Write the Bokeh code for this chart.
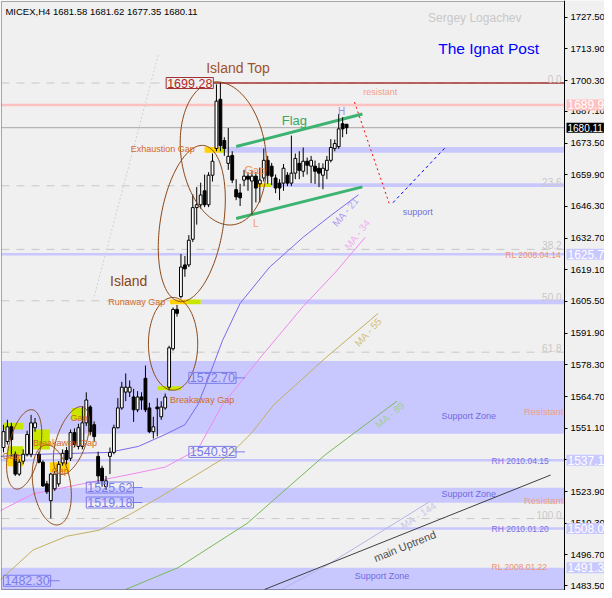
import numpy as np
from bokeh.plotting import figure
from bokeh.models import Range1d, BoxAnnotation, Label, FixedTicker, PrintfTickFormatter, LinearAxis
from bokeh.core.properties import value
from bokeh.embed import file_html
from bokeh.resources import INLINE

# ---------------- data ----------------
title_text = "MICEX,H4  1681.58 1681.62 1677.35 1680.11"

opens = [1542.8, 1545.4, 1551.7, 1539.9, 1531.4, 1536.9, 1539.9, 1539.9, 1551.3, 1539.9,
         1536.5, 1527.2, 1520.0, 1525.1, 1527.2, 1536.2, 1541.5, 1538.2, 1549.2, 1543.3,
         1543.3, 1553.4, 1560.2, 1552.6, 1539.0, 1533.9, 1526.0, 1539.0, 1540.7, 1551.3,
         1559.8, 1566.6, 1566.6, 1564.5, 1559.0, 1564.5, 1572.5, 1559.8, 1549.6, 1560.2,
         1556.0, 1559.8, 1568.7, 1585.2, 1602.1, 1607.6, 1621.2, 1621.2, 1632.2, 1645.8,
         1647.0, 1653.0, 1647.0, 1659.7, 1671.2, 1692.3, 1674.6, 1664.8, 1668.2, 1653.5,
         1652.1, 1657.6, 1659.3, 1657.2, 1659.3, 1656.0, 1658.5, 1666.1, 1663.6, 1658.5,
         1656.3, 1656.3, 1659.7, 1656.3, 1660.6, 1664.8, 1661.4, 1665.7, 1663.6, 1663.6,
         1662.7, 1659.7, 1661.8, 1666.1, 1671.2, 1672.0, 1681.8, 1681.58]
highs = [1552.6, 1554.7, 1553.4, 1541.1, 1537.8, 1542.0, 1550.0, 1556.8, 1555.5, 1541.1,
         1537.3, 1528.5, 1532.0, 1532.7, 1537.0, 1542.0, 1543.0, 1550.5, 1551.0, 1553.0,
         1560.5, 1566.5, 1561.0, 1554.0, 1541.0, 1535.0, 1530.6, 1542.8, 1552.6, 1564.0,
         1571.0, 1574.6, 1571.6, 1568.0, 1567.0, 1566.5, 1578.0, 1562.0, 1556.0, 1564.0,
         1562.7, 1566.0, 1586.5, 1602.9, 1604.0, 1625.9, 1625.0, 1634.0, 1651.5, 1654.6,
         1656.5, 1660.0, 1661.0, 1669.0, 1698.7, 1699.28, 1676.0, 1680.0, 1670.0, 1658.0,
         1656.0, 1662.0, 1661.0, 1662.0, 1661.0, 1663.0, 1671.2, 1668.0, 1665.0, 1660.0,
         1658.0, 1664.5, 1661.0, 1676.7, 1669.0, 1670.0, 1671.6, 1667.3, 1668.0, 1666.0,
         1665.0, 1664.8, 1668.0, 1675.2, 1675.0, 1686.0, 1684.6, 1681.62]
lows = [1540.7, 1544.1, 1539.0, 1530.6, 1530.6, 1535.6, 1539.0, 1538.6, 1549.6, 1536.0,
        1525.9, 1522.9, 1512.3, 1524.2, 1526.0, 1535.0, 1535.6, 1537.0, 1543.0, 1542.0,
        1542.0, 1552.0, 1548.0, 1545.4, 1527.6, 1526.0, 1524.6, 1531.4, 1539.9, 1551.0,
        1559.0, 1562.7, 1564.5, 1553.8, 1558.0, 1559.0, 1558.0, 1549.0, 1546.7, 1547.6,
        1554.7, 1559.0, 1567.3, 1584.4, 1599.0, 1606.8, 1616.1, 1620.3, 1631.0, 1638.5,
        1645.4, 1646.0, 1646.0, 1657.0, 1670.0, 1670.0, 1668.0, 1662.0, 1656.3, 1649.0,
        1646.5, 1655.0, 1653.0, 1642.8, 1648.0, 1648.0, 1657.0, 1656.0, 1655.5, 1652.0,
        1649.0, 1653.0, 1655.0, 1655.0, 1658.0, 1658.0, 1659.0, 1660.0, 1656.3, 1656.0,
        1654.6, 1653.7, 1658.0, 1665.2, 1670.0, 1671.0, 1676.0, 1677.35]
closes = [1549.6, 1551.7, 1546.2, 1531.4, 1536.5, 1539.9, 1548.4, 1553.4, 1553.4, 1536.5,
          1526.3, 1523.8, 1531.4, 1531.4, 1535.6, 1540.3, 1537.7, 1549.2, 1544.1, 1551.3,
          1553.4, 1563.2, 1549.6, 1547.5, 1530.6, 1528.5, 1528.5, 1540.7, 1551.3, 1559.8,
          1568.7, 1568.7, 1568.7, 1559.0, 1564.5, 1563.2, 1559.0, 1549.6, 1551.7, 1559.4,
          1560.2, 1564.5, 1585.6, 1602.1, 1600.4, 1620.3, 1619.5, 1631.8, 1645.8, 1647.0,
          1651.2, 1647.0, 1659.7, 1665.7, 1691.5, 1672.4, 1671.2, 1667.8, 1657.6, 1650.4,
          1650.0, 1659.3, 1658.0, 1659.3, 1654.2, 1657.6, 1666.1, 1659.7, 1659.3, 1654.2,
          1654.2, 1662.7, 1656.3, 1660.6, 1666.9, 1661.8, 1665.7, 1664.0, 1666.1, 1661.4,
          1660.6, 1662.7, 1666.1, 1671.6, 1673.3, 1679.6, 1679.6, 1680.11]

y_ticks = [1483.5, 1496.7, 1510.3, 1523.9, 1537.5, 1551.1, 1564.7, 1578.3, 1591.9, 1605.5,
           1619.1, 1632.7, 1646.3, 1659.9, 1673.5, 1687.1, 1700.3, 1713.9, 1727.5]

# moving averages (bar index, price)
ma21_x = [-0.75, 9.25, 26.75, 34.25, 41, 46, 49.25, 51.75, 55.5, 60, 67.5, 76, 83, 90]
ma21_y = [1539.0, 1539.9, 1540.7, 1543.3, 1548.4, 1552.6, 1561.1, 1571.6, 1588.6, 1604.7, 1620.3, 1633.1, 1642.4, 1651.3]
ma34_x = [-0.75, 7.5, 20, 32.5, 41, 49.25, 55.5, 65.5, 76, 84.25, 91.75]
ma34_y = [1515.7, 1522.9, 1527.2, 1531.4, 1534.4, 1542.0, 1561.1, 1582.2, 1603.4, 1618.2, 1633.1]
ma55_x = [-0.75, 7.5, 16, 24.25, 32.5, 41, 49.25, 57.5, 63, 68.5, 81.75, 95]
ma55_y = [1486.1, 1498.8, 1504.7, 1507.3, 1514.5, 1522.9, 1531.4, 1539.9, 1549.2, 1561.1, 1581.4, 1600.4]
ma89_x = [31, 44.25, 61.75, 71.75, 81.75, 99.75]
ma89_y = [1481.9, 1491.2, 1510.2, 1525.1, 1539.9, 1562.7]
ma144_x = [70.5, 81.75, 108]
ma144_y = [1481.9, 1492.0, 1519.5]
uptrend_x = [66.25, 138.75]
uptrend_y = [1481.9, 1531.0]

flag_top_x = [59, 91]
flag_top_y = [1672.0, 1686.0]
flag_bot_x = [59, 91]
flag_bot_y = [1641.1, 1654.7]
proj_down_x = [89, 98]
proj_down_y = [1691.1, 1646.6]
proj_up_x = [98.75, 112.25]
proj_up_y = [1647.9, 1672.0]
fib_ray_x = [23.0, 39.25]
fib_ray_y = [1607.6, 1711.4]

# zones and levels
zone_top = [1579.9, 1525.5, 1491.2]
zone_bottom = [1548.7, 1519.1, 1470.0]
rh_levels = [1625.8, 1537.3, 1508.0]
resist_level = 1689.9
last_price = 1680.11
top_high = 1699.28
fib_low = 1512.3
fib_pcts = [0.0, 23.6, 38.2, 50.0, 61.8, 100.0]
fib_names = ["0.0", "23.6", "38.2", "50.0", "61.8", "100.0"]

band_left = [56.0, 68.0, 50.0]
band_top = [1671.8, 1656.3, 1606.4]
band_bottom = [1669.3, 1654.6, 1604.3]

GOLD = "#ffd200"
YG = "#c8e600"
gap_left = [51.0, 54.75, 64.5, 66.25, 42.25, 46.75, 39.0, 0.0, 1.0, 1.0, 7.5, 11.75, 17.25]
gap_right = [54.75, 56.0, 66.25, 68.0, 46.75, 50.0, 45.0, 5.0, 5.0, 5.0, 11.75, 16.75, 21.25]
gap_top = [1671.8, 1671.8, 1656.3, 1656.3, 1606.4, 1606.4, 1569.1, 1553.4, 1543.3, 1539.0, 1550.5, 1536.5, 1559.8]
gap_bottom = [1669.3, 1669.3, 1654.6, 1654.6, 1604.3, 1604.3, 1567.4, 1550.5, 1539.0, 1534.8, 1542.0, 1532.3, 1554.7]
gap_color = [GOLD, YG, GOLD, YG, GOLD, YG, YG, YG, YG, GOLD, YG, GOLD, YG]

axis_tags = [("1689.9", 1689.9, "#ffc0c0", "12px"), ("1680.11", 1680.11, "#000000", "10px"),
             ("1625.7", 1625.8, "#c8c8ff", "12px"), ("1537.1", 1537.3, "#c8c8ff", "12px"),
             ("1508.0", 1508.0, "#c8c8ff", "12px"), ("1491.3", 1491.2, "#c8c8ff", "12px")]

# ---------------- helpers (reference pixel -> data) ----------------
def rx(px):
    return (np.asarray(px, dtype=float) - 3.0) / 4.0

def ry(py):
    return 1734.7 - 0.42353 * np.asarray(py, dtype=float)

W, H = 604, 590
X0, X1 = -0.5, 142.25          # chart area (axis line at X1)
Y0, Y1 = 1481.85, 1734.28
SX = 563.0 / (X1 - X0)          # px per bar
SY = 588.0 / (Y1 - Y0)          # px per price unit
XR0, XR1 = X0 - 1.0 / SX, X0 + (W - 1.0) / SX
YR0, YR1 = Y0 - 1.0 / SY, Y1 + 1.0 / SY

p = figure(width=W, height=H, x_range=Range1d(XR0, XR1), y_range=Range1d(YR0, YR1),
           output_backend="svg", toolbar_location=None, x_axis_location=None,
           y_axis_location=None, min_border_left=0, min_border_top=0,
           min_border_bottom=0, min_border_right=0)
p.background_fill_color = "#f0f0f0"
p.border_fill_color = "#f0f0f0"
p.outline_line_color = None
p.grid.visible = False

ax = LinearAxis(fixed_location=X1, ticker=FixedTicker(ticks=y_ticks),
                formatter=PrintfTickFormatter(format="%.2f"))
ax.axis_line_color = "black"
ax.major_tick_line_color = "black"
ax.major_tick_out = 3
ax.major_tick_in = 0
ax.minor_tick_line_color = None
ax.major_label_text_font = "Liberation Sans"
ax.major_label_text_font_size = "9.5px"
ax.major_label_text_color = "black"
ax.major_label_standoff = 3
p.add_layout(ax, "right")

LAV = "#c8c8ff"
FONT = "Liberation Sans"
n_z = len(zone_top)

# zones
p.quad(left=[X0] * n_z, right=[X1] * n_z, top=zone_top, bottom=zone_bottom,
       fill_color=LAV, line_color=None)
# fib levels
span_rng = top_high - fib_low
fib_vals = [top_high - pct / 100.0 * span_rng for pct in fib_pcts]
p.segment(x0=[X0] * len(fib_vals), y0=fib_vals, x1=[X1] * len(fib_vals), y1=fib_vals,
          line_color="#c8c8c8", line_width=1, line_dash="8 7")
p.segment(x0=[X0] * len(rh_levels), y0=rh_levels, x1=[X1] * len(rh_levels), y1=rh_levels,
          line_color=LAV, line_width=2.5)
p.segment(x0=[X0], y0=[resist_level], x1=[X1], y1=[resist_level], line_color="#ffc0c0", line_width=2.5)
p.segment(x0=[X0], y0=[last_price], x1=[X1], y1=[last_price], line_color="#a8a8a8", line_width=1)
p.segment(x0=[52.5], y0=[top_high], x1=[X1], y1=[top_high], line_color="#a83232", line_width=1.5)

# bands and gap boxes
p.quad(left=band_left, right=[X1] * len(band_left), top=band_top, bottom=band_bottom,
       fill_color=LAV, line_color=None)
p.quad(left=gap_left, right=gap_right, top=gap_top, bottom=gap_bottom,
       fill_color=gap_color, line_color=None)

# moving averages and trend lines
p.line(fib_ray_x, fib_ray_y, line_color="#d0d0d0", line_width=1, line_dash="2 2")
p.line(ma144_x, ma144_y, line_color="#b4b4e6", line_width=1)
p.line(ma89_x, ma89_y, line_color="#78b858", line_width=1)
p.line(ma55_x, ma55_y, line_color="#c0b060", line_width=1)
p.line(ma34_x, ma34_y, line_color="#ee88ee", line_width=1)
p.line(ma21_x, ma21_y, line_color="#7b68ee", line_width=1)
p.line(uptrend_x, uptrend_y, line_color="#404040", line_width=1)
p.line(flag_top_x, flag_top_y, line_color="#3cb371", line_width=3)
p.line(flag_bot_x, flag_bot_y, line_color="#3cb371", line_width=3)
p.line(proj_down_x, proj_down_y, line_color="#ff0000", line_width=1, line_dash="2 3")
p.line(proj_up_x, proj_up_y, line_color="#0000ff", line_width=1, line_dash="3 3")

# candles
idx = list(range(len(opens)))
body_top = [max(o, c) for o, c in zip(opens, closes)]
body_bot = [min(o, c) for o, c in zip(opens, closes)]
body_col = ["white" if c >= o else "black" for o, c in zip(opens, closes)]
p.segment(x0=idx, y0=lows, x1=idx, y1=highs, line_color="black", line_width=1)
p.vbar(x=idx, width=0.72, top=body_top, bottom=body_bot, fill_color=body_col,
       line_color="black", line_width=1)

# ellipses (centre in reference pixels, semi-axes in pixels, tilt)
ellipses = [(226, 155, 73, 43, -8), (194, 226, 80, 32, 9), (175, 348, 47, 25, 0),
            (24, 455, 41, 16, 12), (52, 491, 41, 19, -9), (72, 446, 36, 15, 19)]
tt = np.linspace(0, 2 * np.pi, 160)
for cx, cy, a, b, d in ellipses:
    th = np.radians(d)
    ex = b * np.cos(tt)
    ey = a * np.sin(tt)
    xr = ex * np.cos(th) - ey * np.sin(th) + cx
    yr = ex * np.sin(th) + ey * np.cos(th) + cy
    p.line(rx(xr), ry(yr), line_color="#8b4513", line_width=1)


def txt(px, py, s, color, size, align="left", baseline="middle", angle=0.0, style="normal"):
    p.text(x=[float(rx(px))], y=[float(ry(py))], text=[s], text_color=color,
           text_font_size=value(size), text_align=align, text_baseline=baseline,
           angle=np.radians(angle), text_font=value(FONT), text_font_style=style)


txt(5, 11, title_text, "black", "9.5px")
txt(481, 18, "Sergey Logachev", "#c8c8c8", "12px", align="center")
txt(495, 49, "The Ignat Post", "#0000ff", "15.5px", align="center")
txt(241, 68, "Island Top", "#a0522d", "14px", align="center")
txt(130, 284, "Island", "#8b4513", "14px", align="center")
txt(298, 122, "Flag", "#3aa860", "13px", align="center")
txt(346, 112, "H", "#9a90e8", "10px", align="center")
txt(259, 226, "L", "#f0a060", "10px", align="center")
txt(258, 172, "Gap", "#f09050", "11px", align="center")
GC = "#d2691e"
txt(197, 151, "Exhaustion Gap", GC, "9px", align="right")
txt(167, 306, "Runaway Gap", GC, "9px", align="right")
txt(172, 405, "Breakaway Gap", GC, "9px")
txt(33, 449, "Breakaway Gap", GC, "9px")
txt(71, 423, "Gap", GC, "9px")
txt(52, 477, "Gap", GC, "9px")
txt(2, 462, "Gap", GC, "9px")
txt(368, 93, "resistant", "#f0a090", "9px")
txt(408, 214, "support", "#7070d8", "9px")
txt(350, 214, "MA - 21", "#b0a0f0", "10px", align="center", angle=50)
txt(362, 237, "MA - 34", "#f0b0f0", "10px", align="center", angle=52)
txt(373, 336, "MA - 55", "#d0c080", "10px", align="center", angle=48)
txt(395, 420, "MA - 89", "#a0d090", "10px", align="center", angle=40)
txt(424, 522, "MA - 144", "#c8c8e8", "10px", align="center", angle=33)
txt(410, 553, "main Uptrend", "#505050", "11px", align="center", angle=22)
ZC = "#7468e0"
txt(475, 421, "Support Zone", ZC, "9px", align="center")
txt(475, 500, "Support Zone", ZC, "9px", align="center")
txt(387, 583, "Support Zone", ZC, "9px", align="center")
txt(571, 417, "Resistant", "#f0a080", "9.5px", align="right")
txt(571, 507, "Resistant", "#f0a080", "9.5px", align="right")
txt(498, 467, "RH  2010.04.15", "#7b6ee8", "8.5px")
txt(498, 536, "RH  2010.01.20", "#7b6ee8", "8.5px")
txt(498, 574, "RL  2008.01.22", "#f09070", "8.5px")
txt(512, 258, "RL  2008.04.14", "#f09070", "8.5px")
p.text(x=[float(rx(569))] * len(fib_vals), y=fib_vals, text=fib_names, text_color="#c8c8c8",
       text_font_size=value("10px"), text_align="right", text_baseline="bottom",
       text_font=value(FONT))

# boxed price marks
BL = "#7b7bea"
marks = [(168, top_high, "1699.28", "#b02828", "#a03030", "#f0f0f0", 213),
         (191, 1572.70, "1572.70", BL, BL, None, 237),
         (191, 1540.92, "1540.92", BL, BL, None, 237),
         (87, 1525.62, "1525.62", BL, BL, None, 133),
         (87, 1519.18, "1519.18", BL, BL, None, 133),
         (3, 1485.60, "1482.30", BL, BL, None, 49)]
for px, price, s, tc, bc, bg, rpx in marks:
    if s != "1699.28":
        p.segment(x0=[float(rx(rpx))], y0=[price], x1=[float(rx(rpx + 11))], y1=[price],
                  line_color=bc, line_width=1)
    p.add_layout(Label(x=float(rx(px)), y=price, text=s, text_color=tc, text_font=FONT,
                       text_font_size="12.5px", text_align="left", text_baseline="middle",
                       border_line_color=bc, border_line_width=1,
                       background_fill_color=bg, padding=1))

# chart frame border (left, top, bottom; right is the axis line)
p.add_layout(BoxAnnotation(left=X0, right=X1, bottom=Y0, top=Y1, fill_alpha=0,
                           line_color="black", line_width=1))

# price tags on the axis
for s, price, bg, size in axis_tags:
    p.add_layout(Label(x=X1, y=price, x_offset=2, text=s, text_color="white", text_font=FONT,
                       text_font_size=size, text_align="left", text_baseline="middle",
                       background_fill_color=bg, padding=1))

open("out.html", "w").write(file_html(p, INLINE))
